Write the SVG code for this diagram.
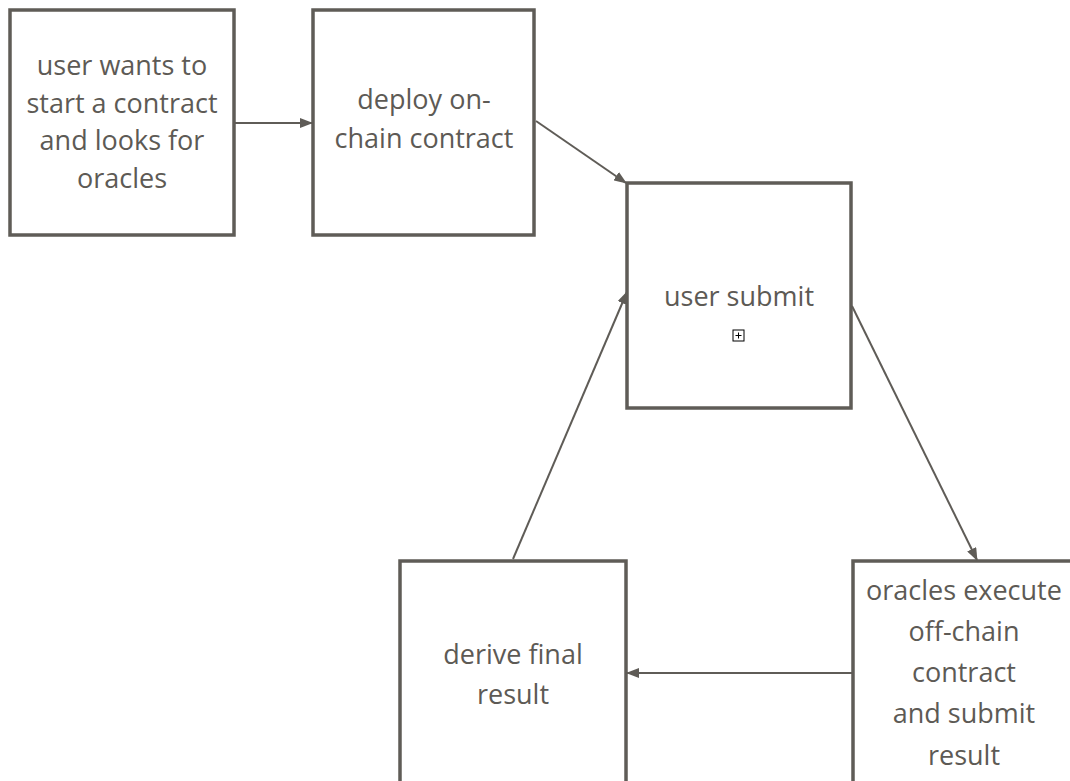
<svg xmlns="http://www.w3.org/2000/svg" width="1070" height="781" viewBox="0 0 1070 781">
<style>
.box{fill:#ffffff;stroke:#5f5c57;stroke-width:3.5}
.t{font-family:"Open Sans","Noto Sans",sans-serif;font-size:27px;fill:#5d5a55;text-anchor:middle}
.c{stroke:#5f5c57;stroke-width:2;fill:none;marker-end:url(#ah)}
</style>
<defs>
<marker id="ah" markerWidth="13" markerHeight="10" refX="12" refY="5" orient="auto" markerUnits="userSpaceOnUse">
<path d="M0,0 L13,5 L0,10 z" fill="#5f5c57"/>
</marker>
</defs>
<rect width="1070" height="781" fill="#ffffff"/>
<g id="n1"><rect class="box" x="10" y="10" width="224" height="225"/>
<text class="t" x="122" y="75">user wants to</text>
<text class="t" x="122" y="113">start a contract</text>
<text class="t" x="122" y="150">and looks for</text>
<text class="t" x="122" y="188">oracles</text></g>
<g id="n2"><rect class="box" x="313" y="10" width="221" height="225"/>
<text class="t" x="424" y="109">deploy on-</text>
<text class="t" x="424" y="148">chain contract</text></g>
<g id="n3"><rect class="box" x="627" y="183" width="224" height="225"/>
<text class="t" x="739" y="306">user submit</text>
<rect x="733" y="330" width="11" height="11" fill="#fff" stroke="#000" stroke-width="1"/>
<path d="M735.5,335.5 H741.5 M738.5,332.5 V338.5" stroke="#000" stroke-width="1"/></g>
<g id="n4"><rect class="box" x="853" y="561" width="240" height="240"/>
<text class="t" x="964" y="600">oracles execute</text>
<text class="t" x="964" y="641">off-chain</text>
<text class="t" x="964" y="682">contract</text>
<text class="t" x="964" y="723">and submit</text>
<text class="t" x="964" y="765">result</text></g>
<g id="n5"><rect class="box" x="400" y="561" width="226" height="240"/>
<text class="t" x="513" y="664">derive final</text>
<text class="t" x="513" y="704">result</text></g>
<g id="connectors">
<line class="c" x1="235" y1="123" x2="312" y2="123"/>
<line class="c" x1="536" y1="121" x2="626" y2="183"/>
<line class="c" x1="852" y1="306" x2="977" y2="560"/>
<line class="c" x1="852" y1="673" x2="627" y2="673"/>
<line class="c" x1="513" y1="559" x2="627" y2="292"/>
</g>
</svg>
